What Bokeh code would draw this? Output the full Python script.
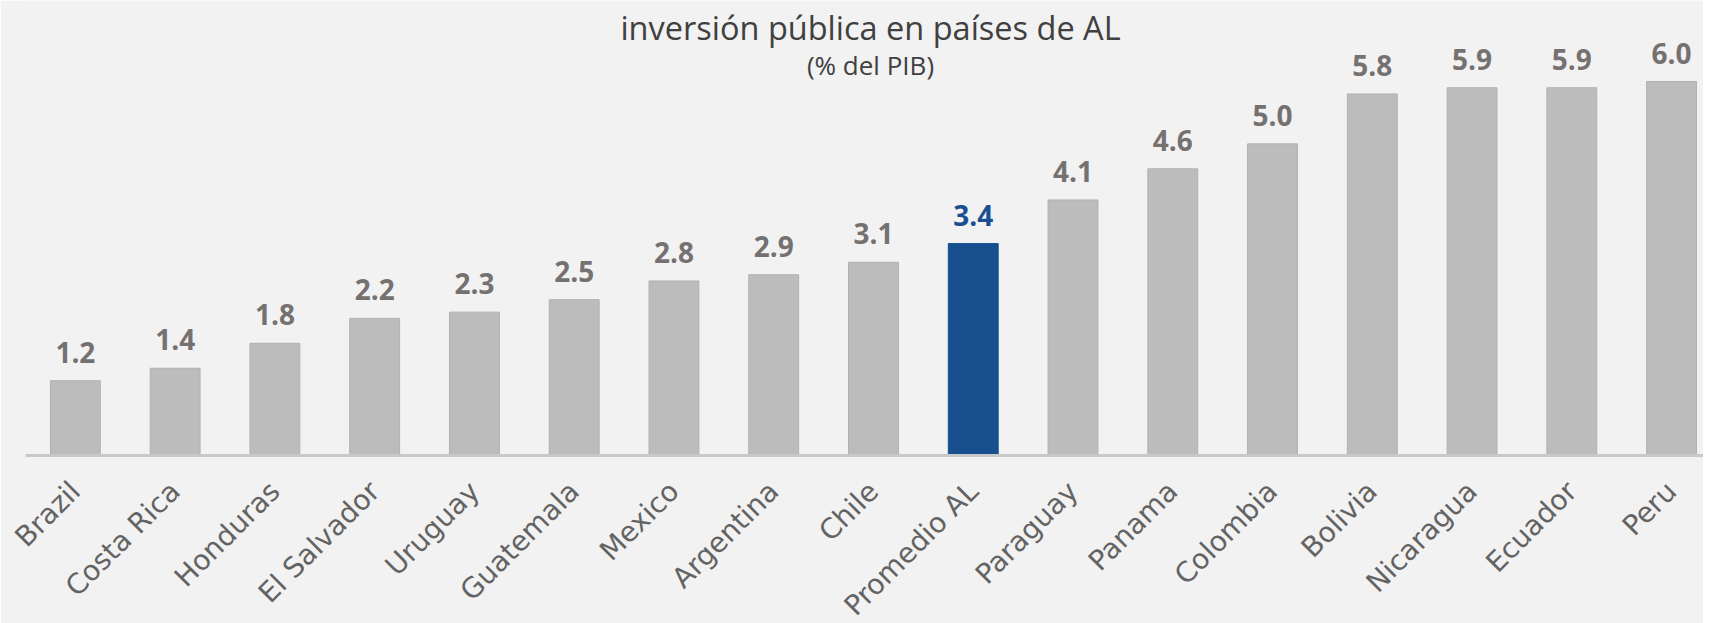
from bokeh.plotting import figure
from bokeh.models import Range1d, FixedTicker, ColumnDataSource, LabelSet, Label
from bokeh.core.properties import value
from bokeh.embed import file_html
from bokeh.resources import INLINE
from math import pi

categories = ["Brazil", "Costa Rica", "Honduras", "El Salvador", "Uruguay", "Guatemala",
              "Mexico", "Argentina", "Chile", "Promedio AL", "Paraguay", "Panama",
              "Colombia", "Bolivia", "Nicaragua", "Ecuador", "Peru"]
values = [1.2, 1.4, 1.8, 2.2, 2.3, 2.5, 2.8, 2.9, 3.1, 3.4, 4.1, 4.6, 5.0, 5.8, 5.9, 5.9, 6.0]
highlight = "Promedio AL"
title_text = "inversión pública en países de AL"
subtitle_text = "(% del PIB)"

BG = "#f2f2f2"
GRAY_BAR = "#bcbcbc"
BLUE_BAR = "#174f8f"
GRAY_LBL = "#767171"
BLUE_LBL = "#1b4f91"

xs = list(range(len(categories)))
src = ColumnDataSource(dict(
    x=xs,
    top=values,
    label=[f"{v:.1f}" for v in values],
    fill=[BLUE_BAR if c == highlight else GRAY_BAR for c in categories],
    line=[BLUE_BAR if c == highlight else "#b1b1b1" for c in categories],
    lcol=[BLUE_LBL if c == highlight else GRAY_LBL for c in categories],
))

FRAME_H = 455
p = figure(frame_width=1678, frame_height=FRAME_H, output_backend="svg",
           toolbar_location=None,
           x_range=Range1d(-0.5, 16.32), y_range=Range1d(0, 7.30),
           min_border_left=25, min_border_right=0, min_border_top=0,
           min_border_bottom=160)
p.background_fill_color = BG
p.border_fill_color = BG
p.outline_line_color = None
p.grid.visible = False
p.yaxis.visible = False

p.vbar(x="x", top="top", bottom=0, width=0.5, source=src,
       fill_color="fill", line_color="line", line_width=1)

labels = LabelSet(x="x", y="top", text="label", source=src, text_align="center",
                  text_baseline="alphabetic", y_offset=18, text_color="lcol",
                  text_font=value("Open Sans"), text_font_style="bold",
                  text_font_size="28px")
p.add_layout(labels)

p.xaxis.ticker = FixedTicker(ticks=xs)
p.xaxis.major_label_overrides = {i: c for i, c in zip(xs, categories)}
p.xaxis.major_label_orientation = pi / 4
p.xaxis.major_tick_line_color = None
p.xaxis.minor_tick_line_color = None
p.xaxis.axis_line_color = "#c9c9c9"
p.xaxis.axis_line_width = 3
p.xaxis.major_label_text_font = "DejaVu Sans"
p.xaxis.major_label_text_font_size = "28px"
p.xaxis.major_label_text_color = "#636363"
p.xaxis.major_label_standoff = 25

p.add_layout(Label(x=845, y=FRAME_H - 27, x_units="screen", y_units="screen", text=title_text,
                   text_align="center", text_baseline="alphabetic", text_font="Open Sans",
                   text_font_size="32.5px", text_color="#404040"))
p.add_layout(Label(x=845, y=FRAME_H - 64, x_units="screen", y_units="screen", text=subtitle_text,
                   text_align="center", text_baseline="alphabetic", text_font="Open Sans",
                   text_font_size="26px", text_color="#404040"))

open("out.html", "w").write(file_html(p, INLINE))
